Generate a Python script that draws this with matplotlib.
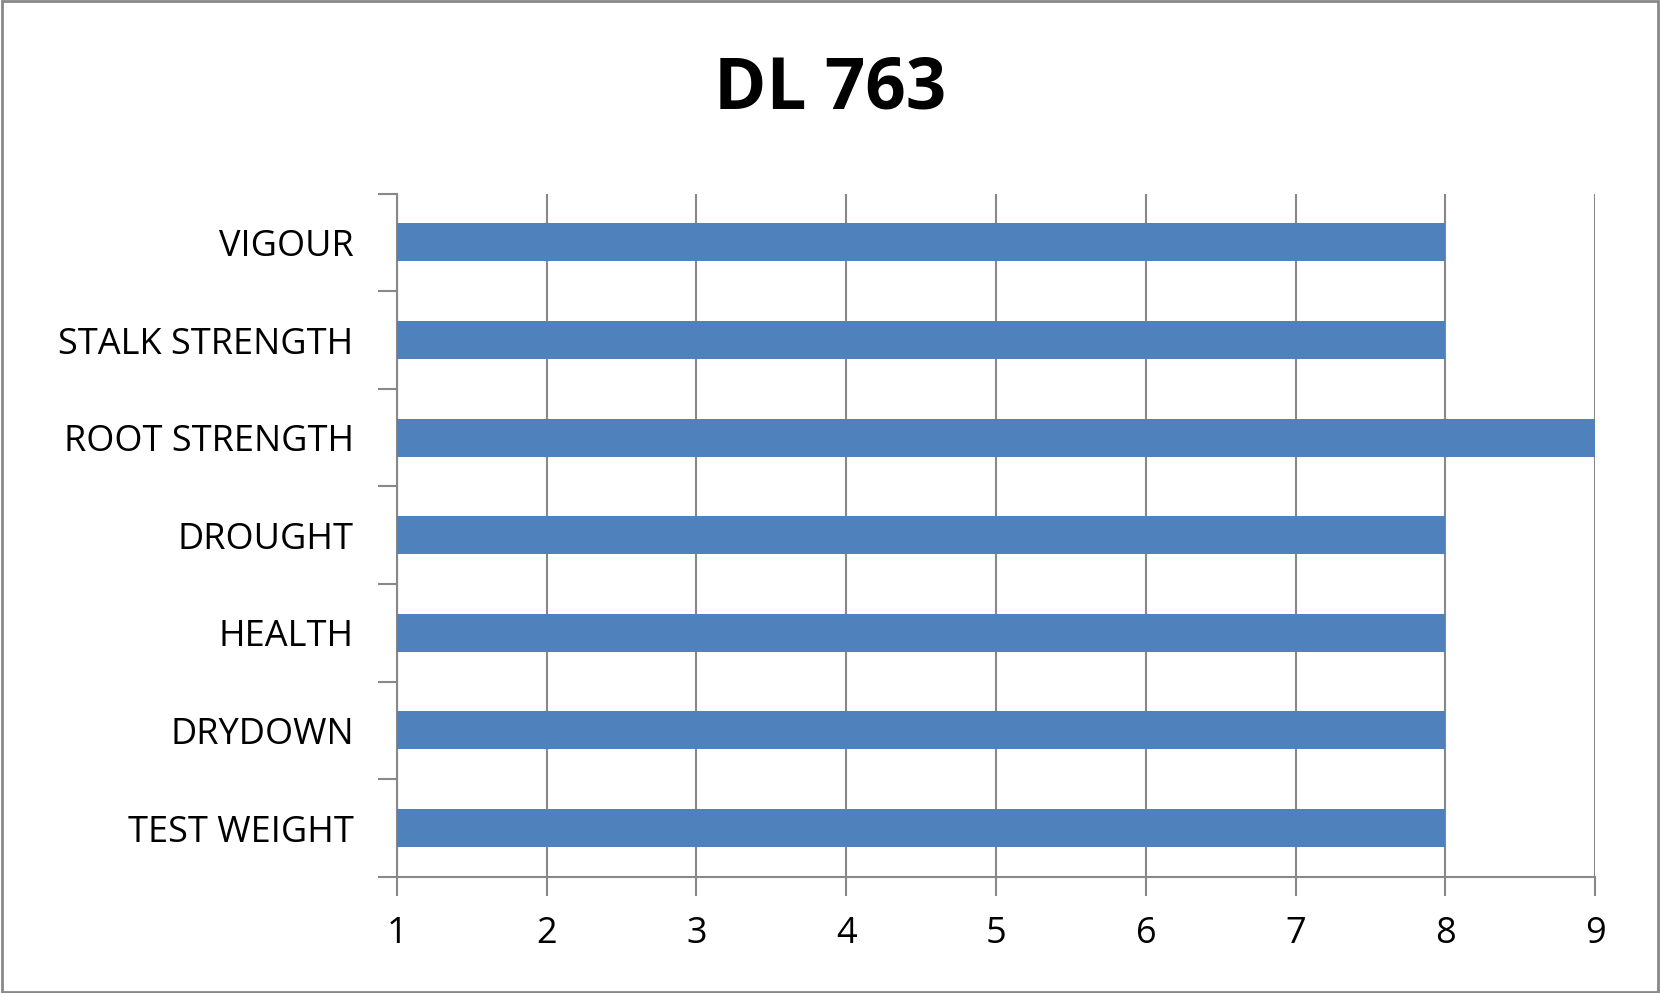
import matplotlib
matplotlib.use("Agg")
import matplotlib.pyplot as plt
from matplotlib.patches import Rectangle

categories = ["VIGOUR", "STALK STRENGTH", "ROOT STRENGTH", "DROUGHT", "HEALTH", "DRYDOWN", "TEST WEIGHT"]
values = [8, 8, 9, 8, 8, 8, 8]
xticks = [1, 2, 3, 4, 5, 6, 7, 8, 9]
title = "DL 763"

plt.rcParams['font.family'] = ['Open Sans', 'DejaVu Sans']
fig = plt.figure(figsize=(16.6, 9.93), dpi=100)
ax = fig.add_axes([0.239, 0.117, 0.722, 0.688])
n = len(categories)
ypos = list(range(n - 1, -1, -1))
ax.barh(ypos, [v - 1 for v in values], left=1, height=0.39, color="#4F81BD", zorder=3)
ax.set_xlim(1, 9)
ax.set_ylim(-0.5, n - 0.5)
ax.set_xticks(xticks)
ax.set_xticklabels([str(t) for t in xticks], fontsize=26)
ax.set_yticks(ypos)
ax.set_yticklabels(categories, fontsize=26)
ax.tick_params(axis='y', length=0, pad=31)
ax.set_yticks([i - 0.5 for i in range(n + 1)], minor=True)
ax.tick_params(axis='y', which='minor', length=14, color="#888888", width=1.5)
ax.tick_params(axis='x', length=14, color="#888888", width=1.5, pad=14)
ax.grid(axis='x', color="#888888", linewidth=1.5, zorder=0)
for s in ["top", "right"]:
    ax.spines[s].set_visible(False)
for s in ["left", "bottom"]:
    ax.spines[s].set_color("#888888")
    ax.spines[s].set_linewidth(1.5)
fig.text(0.5, 0.91, title, ha='center', va='center', fontsize=51, fontweight='bold')
fig.patches.append(Rectangle((0.001, 0.001), 0.998, 0.998, transform=fig.transFigure,
                             fill=False, edgecolor="#888888", linewidth=2))
fig.savefig("out.png", dpi=100)
